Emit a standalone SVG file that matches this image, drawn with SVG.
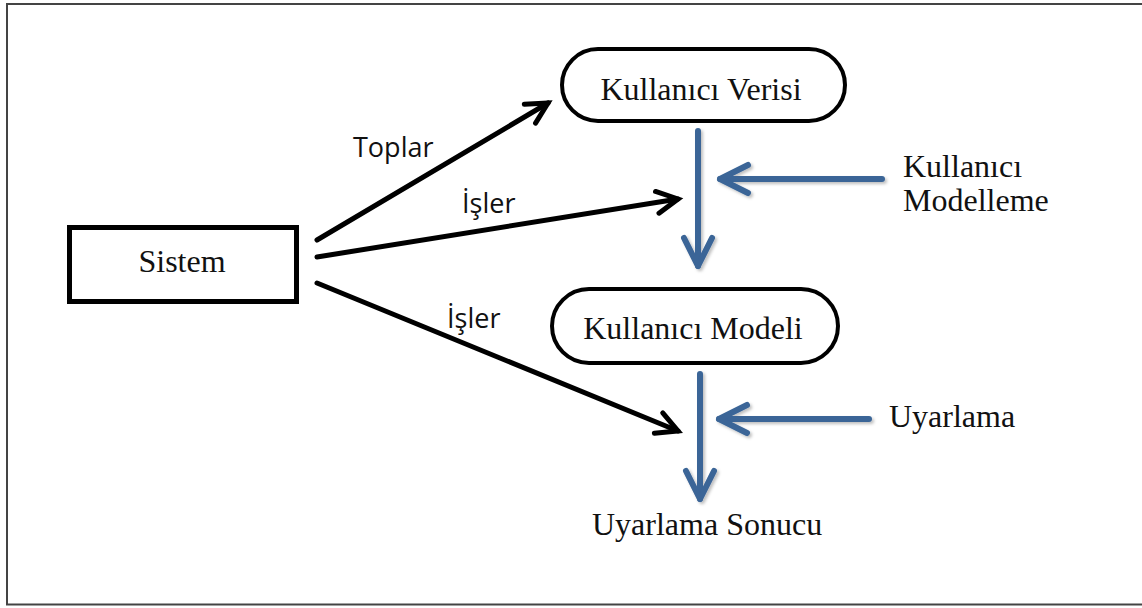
<svg xmlns="http://www.w3.org/2000/svg" width="1142" height="608" viewBox="0 0 1142 608">
  <style>
    .serif { font-family: "Liberation Serif", "Times New Roman", serif; font-size: 32px; fill: #111; }
    .sans { font-family: "Open Sans", "Liberation Sans", sans-serif; font-size: 27px; fill: #111; }
    .blk { stroke: #000; stroke-width: 5; fill: none; stroke-linecap: round; }
    .blu { stroke: #3B6597; stroke-width: 6; fill: none; stroke-linecap: round; stroke-linejoin: round; }
    .box { fill: #fff; stroke: #000; stroke-width: 5; }
    .pill { fill: #fff; stroke: #000; stroke-width: 4; }
  </style>
  <defs>
    <marker id="blkHead" markerUnits="userSpaceOnUse" orient="auto" markerWidth="40" markerHeight="40" refX="0" refY="0" viewBox="-30 -20 40 40" overflow="visible">
      <path d="M-21,-11 L0,0 L-21,11" fill="none" stroke="#000" stroke-width="5" stroke-linecap="round" stroke-linejoin="miter"/>
    </marker>
    <marker id="bluHead" markerUnits="userSpaceOnUse" orient="auto" markerWidth="50" markerHeight="50" refX="0" refY="0" viewBox="-40 -25 50 50" overflow="visible">
      <path d="M-28,-14 L0,0 L-28,14" fill="none" stroke="#3B6597" stroke-width="6" stroke-linecap="round" stroke-linejoin="round"/>
    </marker>
    <filter id="shadow" x="-20%" y="-20%" width="140%" height="140%">
      <feDropShadow dx="2" dy="2" stdDeviation="1.5" flood-color="#000" flood-opacity="0.25"/>
    </filter>
  </defs>

  <rect width="1142" height="608" fill="#fff"/>
  <path d="M1142,4 L7,4 L7,604.5 L1142,604.5" fill="none" stroke="#444" stroke-width="2"/>

  <g id="connectors">
    <line class="blk" x1="317" y1="240" x2="548" y2="103" marker-end="url(#blkHead)"/>
    <line class="blk" x1="317" y1="257" x2="678" y2="199" marker-end="url(#blkHead)"/>
    <line class="blk" x1="317" y1="283" x2="678" y2="431" marker-end="url(#blkHead)"/>
    <g filter="url(#shadow)">
      <line class="blu" x1="698" y1="131" x2="698" y2="266" marker-end="url(#bluHead)"/>
      <line class="blu" x1="882" y1="179" x2="720" y2="179" marker-end="url(#bluHead)"/>
      <line class="blu" x1="700" y1="374" x2="700" y2="499" marker-end="url(#bluHead)"/>
      <line class="blu" x1="869" y1="419" x2="719" y2="419" marker-end="url(#bluHead)"/>
    </g>
    <text class="sans" x="353" y="157">Toplar</text>
    <text class="sans" x="462" y="213">İşler</text>
    <text class="sans" x="447" y="328">İşler</text>
  </g>

  <g id="sistem">
    <rect class="box" x="69.5" y="227.5" width="227" height="74"/>
    <text class="serif" x="182" y="272" text-anchor="middle">Sistem</text>
  </g>

  <g id="kullanici-verisi">
    <rect class="pill" x="562" y="49" width="283" height="72" rx="36" ry="36"/>
    <text class="serif" x="701" y="100" text-anchor="middle">Kullanıcı Verisi</text>
  </g>

  <g id="kullanici-modeli">
    <rect class="pill" x="552" y="289" width="286" height="74" rx="37" ry="37"/>
    <text class="serif" x="693" y="339" text-anchor="middle">Kullanıcı Modeli</text>
  </g>

  <g id="kullanici-modelleme">
    <text class="serif" x="903" y="177">Kullanıcı</text>
    <text class="serif" x="903" y="211">Modelleme</text>
  </g>

  <g id="uyarlama">
    <text class="serif" x="889" y="427">Uyarlama</text>
  </g>

  <g id="uyarlama-sonucu">
    <text class="serif" x="592" y="535">Uyarlama Sonucu</text>
  </g>
</svg>
